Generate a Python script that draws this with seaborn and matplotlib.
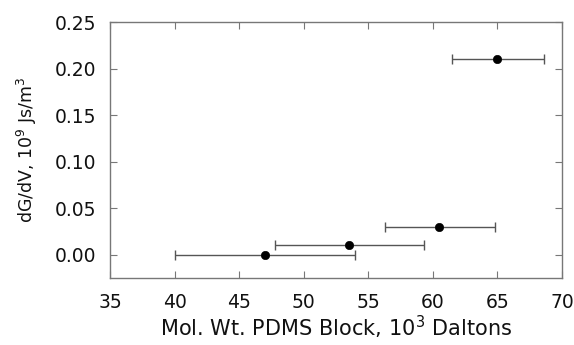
import matplotlib
matplotlib.use("Agg")
import matplotlib.pyplot as plt
import seaborn as sns
import pandas as pd

# Data
mol_wt = [47.0, 53.5, 60.5, 65.0]
dg_dv = [0.000, 0.010, 0.030, 0.210]
err_low = [40.0, 47.8, 56.3, 61.5]
err_high = [54.0, 59.3, 64.8, 68.6]

df = pd.DataFrame({'mw': mol_wt, 'dg': dg_dv})

sns.set_style("ticks")
plt.rcParams['font.family'] = ['DejaVu Sans']
plt.rcParams['mathtext.fontset'] = 'dejavusans'

fig = plt.figure(figsize=(5.74, 3.45), dpi=100)
ax = fig.add_axes([0.1916, 0.194, 0.7874, 0.742])

xerr = [[m - lo for m, lo in zip(mol_wt, err_low)],
        [hi - m for m, hi in zip(mol_wt, err_high)]]
ax.errorbar(mol_wt, dg_dv, xerr=xerr, fmt='none', ecolor='#555555',
            elinewidth=1.0, capsize=3.5, capthick=1.0, zorder=2)
sns.scatterplot(data=df, x='mw', y='dg', color='black', s=36,
                edgecolor='black', ax=ax, zorder=3)

ax.set_xlim(35, 70)
ax.set_ylim(-0.025, 0.25)
ax.set_xticks([35, 40, 45, 50, 55, 60, 65, 70])
ax.set_yticks([0.00, 0.05, 0.10, 0.15, 0.20, 0.25])
ax.set_yticklabels(['0.00', '0.05', '0.10', '0.15', '0.20', '0.25'])

ax.tick_params(direction='in', top=True, right=True, length=5,
               color='#777777', labelsize=13.5, labelcolor='#111111')
ax.tick_params(axis='y', pad=10)
ax.tick_params(axis='x', pad=11)
for sp in ax.spines.values():
    sp.set_visible(True)
    sp.set_color('#777777')
    sp.set_linewidth(1.0)

ax.set_xlabel('Mol. Wt. PDMS Block, 10$^3$ Daltons', fontsize=15,
              color='#111111', labelpad=1)
ax.set_ylabel('dG/dV, 10$^9$ Js/m$^3$', fontsize=12.5, color='#111111',
              labelpad=11)

fig.savefig('out.png', dpi=100)
